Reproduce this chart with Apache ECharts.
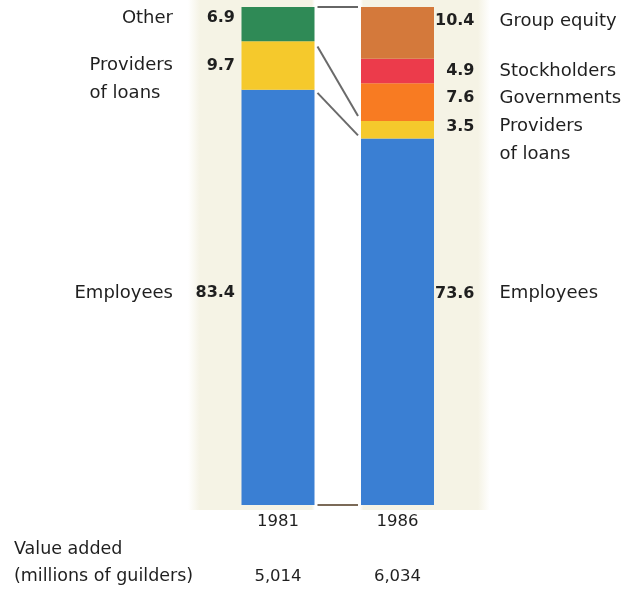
<!DOCTYPE html>
<html>
<head>
<meta charset="utf-8">
<script src="https://cdn.jsdelivr.net/npm/echarts@6/dist/echarts.min.js"></script>
<style>
  html, body { margin: 0; padding: 0; background: #ffffff; }
  #chart { width: 642px; height: 589px; }
</style>
</head>
<body>
<div id="chart"></div>
<script>
// Distribution of value added (percent), 1981 vs 1986
const years = ['1981', '1986'];
const employees    = [83.4, 73.6];
const providers    = [9.7, 3.5];
const other        = [6.9, null];
const governments  = [null, 7.6];
const stockholders = [null, 4.9];
const groupEquity  = [null, 10.4];
const valueAdded   = [5014, 6034]; // millions of guilders

const FONT = '"DejaVu Sans", "Liberation Sans", Arial, sans-serif';
const TXT = '#1f1f1f';
const BAR_W = 73;
const HALF = BAR_W / 2;

// stacked from the bottom up
const stacks = [
  { key: 'emp',  name: 'Employees',          data: employees,    color: '#3a7fd3' },
  { key: 'prov', name: 'Providers\nof loans', data: providers,    color: '#f5c92c' },
  { key: 'oth',  name: 'Other',              data: other,        color: '#2f8a56' },
  { key: 'gov',  name: 'Governments',        data: governments,  color: '#f87b22' },
  { key: 'stk',  name: 'Stockholders',       data: stockholders, color: '#ec3b4b' },
  { key: 'grp',  name: 'Group equity',       data: groupEquity,  color: '#d4793b' }
];

// vertical nudges of the annotation rows (px) for [left bar, right bar]
const shift = {
  emp:  [-4, -28],
  prov: [0, -3],
  oth:  [-6, 0],
  gov:  [0, -4],
  stk:  [0, 0],
  grp:  [0, -12]
};

const fmt1 = v => Number(v).toFixed(1);
const fmtThousands = v => String(v).replace(/\B(?=(\d{3})+(?!\d))/g, ',');

// running totals per year to locate segment middles
const running = years.map(() => 0);
const nameItems = [];
stacks.forEach(s => {
  s.data.forEach((v, i) => {
    if (v == null) return;
    nameItems.push({ x: i, mid: running[i] + v / 2, name: s.name, dy: shift[s.key][i] });
    running[i] += v;
  });
});

// connecting rules between the two bars
const cum = (arrs, i) => arrs.reduce((a, arr) => a + (arr[i] || 0), 0);
const connectors = [
  { a: cum(stacks.map(s => s.data), 0), b: cum(stacks.map(s => s.data), 1), color: '#666666' },
  { a: employees[0] + providers[0], b: employees[1] + providers[1], color: '#6a6a6a' },
  { a: employees[0], b: employees[1], color: '#6a6a6a' },
  { a: 0, b: 0, color: '#7b6a58' }
];

const barSeries = stacks.map(s => ({
  type: 'bar',
  name: s.name,
  stack: 'total',
  barWidth: BAR_W,
  itemStyle: { color: s.color },
  label: {
    show: false,
    fontFamily: FONT,
    fontSize: 16,
    fontWeight: 'bold',
    color: TXT,
    formatter: p => fmt1(p.value)
  },
  data: s.data.map((v, i) => {
    if (v == null) return '-';
    return {
      value: v,
      label: i === 0
        ? { show: true, position: 'left', distance: 6.5, offset: [0, shift[s.key][0]] }
        : { show: true, position: 'right', distance: 0, align: 'right', offset: [40.5, shift[s.key][1]] }
    };
  })
}));

const nameSeries = {
  type: 'custom',
  silent: true,
  encode: { x: 0, y: 1 },
  data: nameItems.map(it => [it.x, it.mid]),
  renderItem: (params, api) => {
    const it = nameItems[params.dataIndex];
    const p = api.coord([it.x, it.mid]);
    const onLeft = it.x === 0;
    const text = it.name.split('\n').map(t => '{n|' + t + '}').join('\n');
    return {
      type: 'text',
      x: onLeft ? p[0] - HALF - 68.5 : p[0] + HALF + 65.5,
      y: p[1] + it.dy - 14,
      style: {
        text: text,
        align: onLeft ? 'right' : 'left',
        verticalAlign: 'top',
        rich: {
          n: { fontFamily: FONT, fontSize: 18, fill: TXT, lineHeight: 28, align: 'left' }
        }
      }
    };
  }
};

const connectorSeries = {
  type: 'custom',
  silent: true,
  encode: { x: 0, y: [1, 2] },
  data: connectors.map(c => [0, c.a, c.b]),
  renderItem: (params, api) => {
    const c = connectors[params.dataIndex];
    const p1 = api.coord([0, c.a]);
    const p2 = api.coord([1, c.b]);
    const xa = p1[0] + HALF, xb = p2[0] - HALF;
    const ya = p1[1], yb = p2[1];
    const inset = 3;
    const t0 = inset / (xb - xa), t1 = 1 - t0;
    return {
      type: 'line',
      shape: {
        x1: xa + (xb - xa) * t0, y1: ya + (yb - ya) * t0,
        x2: xa + (xb - xa) * t1, y2: ya + (yb - ya) * t1
      },
      style: { stroke: c.color, lineWidth: 2 }
    };
  }
};

const CREAM = 'rgba(245,243,229,1)';
const CREAM0 = 'rgba(245,243,229,0)';

const chart = echarts.init(document.getElementById('chart'), null, { renderer: 'canvas' });
chart.setOption({
  animation: false,
  backgroundColor: '#ffffff',
  grid: { left: 218.25, right: 184.75, top: 7, bottom: 84 },
  xAxis: [
    {
      type: 'category',
      data: years,
      axisLine: { show: false },
      axisTick: { show: false },
      axisLabel: { fontFamily: FONT, fontSize: 16.5, color: TXT, margin: 8 }
    },
    {
      type: 'category',
      data: years,
      position: 'bottom',
      offset: 55,
      axisLine: { show: false },
      axisTick: { show: false },
      axisLabel: {
        fontFamily: FONT, fontSize: 16.5, color: TXT, margin: 8,
        formatter: (val, idx) => fmtThousands(valueAdded[idx])
      }
    }
  ],
  yAxis: { type: 'value', min: 0, max: 100, show: false },
  graphic: [
    {
      type: 'rect',
      z: -100,
      silent: true,
      shape: { x: 188, y: 0, width: 302, height: 510 },
      style: {
        fill: {
          type: 'linear', x: 0, y: 0, x2: 1, y2: 0,
          colorStops: [
            { offset: 0.00, color: CREAM0 },
            { offset: 0.04, color: CREAM },
            { offset: 0.41, color: CREAM },
            { offset: 0.42, color: '#ffffff' },
            { offset: 0.57, color: '#ffffff' },
            { offset: 0.58, color: CREAM },
            { offset: 0.96, color: CREAM },
            { offset: 1.00, color: CREAM0 }
          ]
        }
      }
    },
    {
      type: 'text',
      left: 14,
      top: 536,
      silent: true,
      style: {
        text: 'Value added\n(millions of guilders)',
        fontFamily: FONT,
        fontSize: 17.5,
        lineHeight: 27,
        fill: TXT
      }
    }
  ],
  series: [...barSeries, nameSeries, connectorSeries]
});
</script>
</body>
</html>
